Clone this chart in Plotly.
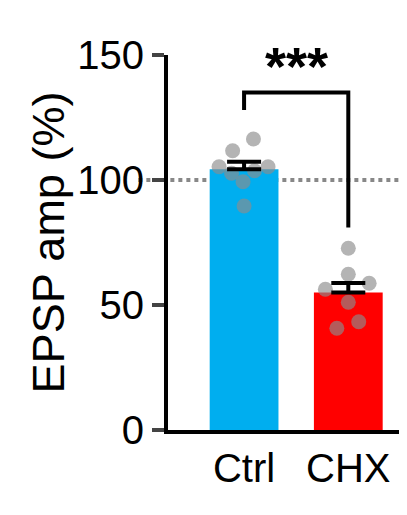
import plotly.graph_objects as go

groups = ["Ctrl", "CHX"]
means = [104.3, 55.0]
sems = [3.0, 3.8]
ctrl_pts = [116.4, 111.7, 105.3, 105.3, 102.7, 103.7, 99.3, 89.6]
chx_pts = [72.7, 62.3, 56.3, 58.7, 51.1, 43.3, 40.7]
ctrl_jit = [0.09, -0.11, -0.24, 0.23, -0.12, 0.10, -0.01, 0.0]
chx_jit = [0.0, 0.0, -0.22, 0.2, 0.0, 0.1, -0.11]
bar_colors = ["#00AEEF", "#FF0000"]

fig = go.Figure()
fig.add_shape(type="line", xref="paper", yref="y", x0=-0.12, x1=1.02, y0=100, y1=100,
              line=dict(color="#888888", width=4, dash="dot"), layer="below")
fig.add_trace(go.Bar(x=[0, 1], y=means, width=0.66, marker=dict(color=bar_colors, line=dict(width=0)),
                     showlegend=False))
pts_x = [j for j in ctrl_jit] + [1 + j for j in chx_jit]
fig.add_trace(go.Scatter(x=pts_x, y=ctrl_pts + chx_pts, mode="markers",
                         marker=dict(size=15, color="rgba(140,140,140,0.65)"), showlegend=False))
fig.add_trace(go.Scatter(x=[0, 1], y=means, mode="markers", marker=dict(size=1, color="rgba(0,0,0,0)"),
                         error_y=dict(type="data", array=sems, symmetric=False, arrayminus=[0, 0],
                                      color="black", thickness=4, width=17),
                         showlegend=False))
# significance bracket
fig.add_trace(go.Scatter(x=[0, 0, 1, 1], y=[128, 135, 135, 81], mode="lines",
                         line=dict(color="black", width=4), showlegend=False))
fig.add_annotation(x=0.5, y=133, text="<b>***</b>", showarrow=False, yanchor="bottom",
                   font=dict(size=54, color="black"))

fig.update_layout(
    width=407, height=515, paper_bgcolor="white", plot_bgcolor="white",
    margin=dict(l=160, r=0, t=47, b=93),
    font=dict(family="Liberation Sans, Arial", size=40, color="black"),
)
fig.update_xaxes(range=[-0.73, 1.64], tickvals=[0, 1], ticktext=groups, showline=True,
                 linecolor="black", linewidth=4, ticks="", showgrid=False, zeroline=False,
                 tickfont=dict(size=40))
fig.update_yaxes(range=[0, 150], tickvals=[0, 50, 100, 150], showline=True, linecolor="black",
                 linewidth=4, ticks="outside", ticklen=12, tickwidth=4, showgrid=False,
                 zeroline=False, title=dict(text="EPSP amp (%)", font=dict(size=45), standoff=0),
                 tickfont=dict(size=40))
fig.write_html("out.html")
